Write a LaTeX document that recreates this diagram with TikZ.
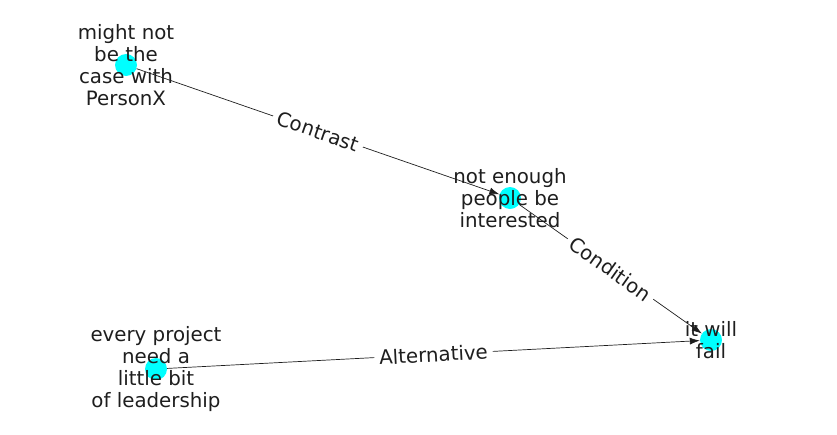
\documentclass[tikz,border=0pt]{standalone}
\usepackage{fontspec}
\setmainfont{DejaVu Sans}
\usetikzlibrary{arrows.meta}
\definecolor{nodecyan}{RGB}{0,255,255}
\definecolor{ink}{RGB}{30,30,30}
\begin{document}
\begin{tikzpicture}[x=1pt,y=-1pt,
  dot/.style={circle,fill=nodecyan,draw=none,minimum size=22pt,inner sep=0pt},
  lbl/.style={align=center,font=\fontsize{19.8}{22}\selectfont,text=ink,inner sep=0pt},
  edge/.style={draw=ink,line width=0.7pt,-{Latex[length=10pt,width=7pt]}},
  elbl/.style={fill=white,inner sep=5pt,font=\fontsize{19.8}{22}\selectfont,text=ink,sloped}]
\useasboundingbox (0,0) rectangle (837,434);
\node[dot] (a) at (126,65) {};
\node[dot] (b) at (510,198) {};
\node[dot] (c) at (711,340) {};
\node[dot] (d) at (156,369) {};
\draw[edge] (a) -- node[elbl] {Contrast} (b);
\draw[edge] (b) -- node[elbl] {Condition} (c);
\draw[edge] (d) -- node[elbl] {Alternative} (c);
\node[lbl] (ta) at (126,65) {might not\\be the\\case with\\PersonX};
\node[lbl] (tb) at (510,198) {not enough\\people be\\interested};
\node[lbl] (tc) at (711,340) {it will\\fail};
\node[lbl] (td) at (156,369) {every project\\need a\\little bit\\of leadership};
\end{tikzpicture}
\end{document}
